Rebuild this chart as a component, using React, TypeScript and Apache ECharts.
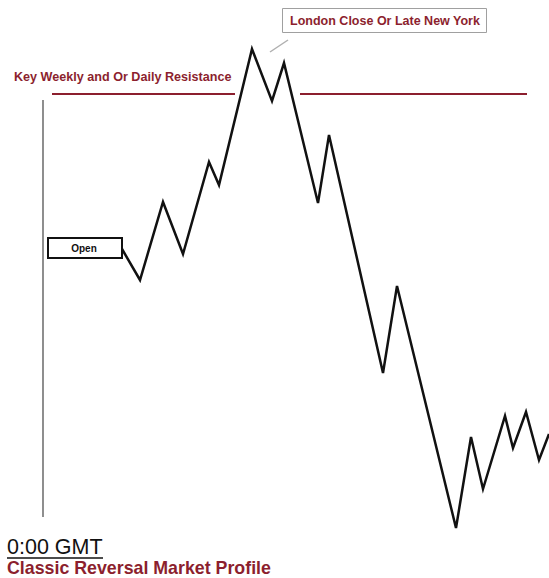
import React, { useEffect, useRef } from "react";
import * as echarts from "echarts";

// Time steps (horizontal units) and price levels of the market profile path
const timeSteps = [122, 140, 163, 183, 209, 219, 252, 272, 284, 318, 329, 383, 397, 456, 471, 483, 505, 513, 526, 539, 549];
const prices = [329, 298, 376, 324, 416, 393, 529, 477, 515, 375, 443, 205, 292, 50, 141, 89, 162, 130, 166, 118, 144];

// Key resistance level and the two drawn segments (time ranges)
const resistanceLevel = 484;
const resistanceSegments = [
  [52, 235],
  [300, 527],
];

const labels = {
  resistance: "Key Weekly and Or Daily Resistance",
  london: "London Close Or Late New York",
  open: "Open",
  time: "0:00 GMT",
  title: "Classic Reversal Market Profile",
};

const RED = "#8c1f2e";

export default function App() {
  const ref = useRef<HTMLDivElement>(null);
  useEffect(() => {
    document.body.style.margin = "0";
    const chart = echarts.init(ref.current!, undefined, { renderer: "svg" });
    const pathData = timeSteps.map((t, i) => [t, prices[i]]);
    chart.setOption({
      animation: false,
      backgroundColor: "#ffffff",
      grid: { left: 0, right: 0, top: 0, bottom: 0 },
      xAxis: { type: "value", min: 0, max: 549, show: false },
      yAxis: { type: "value", min: 0, max: 578, show: false },
      series: [
        {
          type: "line",
          data: pathData,
          symbol: "none",
          lineStyle: { color: "#111111", width: 2.5, join: "miter" },
          markLine: {
            silent: true,
            symbol: "none",
            label: { show: false },
            lineStyle: { color: RED, width: 2, type: "solid" },
            data: resistanceSegments.map((s) => [
              { coord: [s[0], resistanceLevel] },
              { coord: [s[1], resistanceLevel] },
            ]),
          },
        },
      ],
      graphic: [
        {
          type: "line",
          shape: { x1: 43, y1: 100, x2: 43, y2: 517 },
          style: { stroke: "#444444", lineWidth: 1.2 },
        },
        {
          type: "text",
          x: 14,
          y: 77,
          style: {
            text: labels.resistance,
            fill: RED,
            font: "bold 12.6px 'Liberation Sans', Arial, sans-serif",
            verticalAlign: "middle",
          },
        },
        {
          type: "rect",
          shape: { x: 282.5, y: 8.5, width: 204, height: 24 },
          style: { fill: "#ffffff", stroke: "#a0a0a0", lineWidth: 1 },
        },
        {
          type: "text",
          x: 385,
          y: 21,
          style: {
            text: labels.london,
            fill: RED,
            font: "bold 12.5px 'Liberation Sans', Arial, sans-serif",
            align: "center",
            verticalAlign: "middle",
          },
        },
        {
          type: "line",
          shape: { x1: 270, y1: 52, x2: 288, y2: 40 },
          style: { stroke: "#b0b0b0", lineWidth: 1.5 },
        },
        {
          type: "rect",
          shape: { x: 48, y: 238, width: 74, height: 20 },
          style: { fill: "#ffffff", stroke: "#111111", lineWidth: 2 },
        },
        {
          type: "text",
          x: 84,
          y: 248,
          style: {
            text: labels.open,
            fill: "#111111",
            font: "bold 10px 'Liberation Sans', Arial, sans-serif",
            align: "center",
            verticalAlign: "middle",
          },
        },
        {
          type: "text",
          x: 7,
          y: 547,
          style: {
            text: labels.time,
            fill: "#111111",
            font: "21.5px 'Liberation Sans', Arial, sans-serif",
            verticalAlign: "middle",
          },
        },
        {
          type: "line",
          shape: { x1: 7, y1: 558, x2: 103, y2: 558 },
          style: { stroke: "#111111", lineWidth: 1.3 },
        },
        {
          type: "text",
          x: 7,
          y: 568,
          style: {
            text: labels.title,
            fill: RED,
            font: "bold 17.8px 'Liberation Sans', Arial, sans-serif",
            verticalAlign: "middle",
          },
        },
      ],
    });
    return () => chart.dispose();
  }, []);
  return <div ref={ref} style={{ position: "absolute", left: 0, top: 0, width: 549, height: 578 }} />;
}
